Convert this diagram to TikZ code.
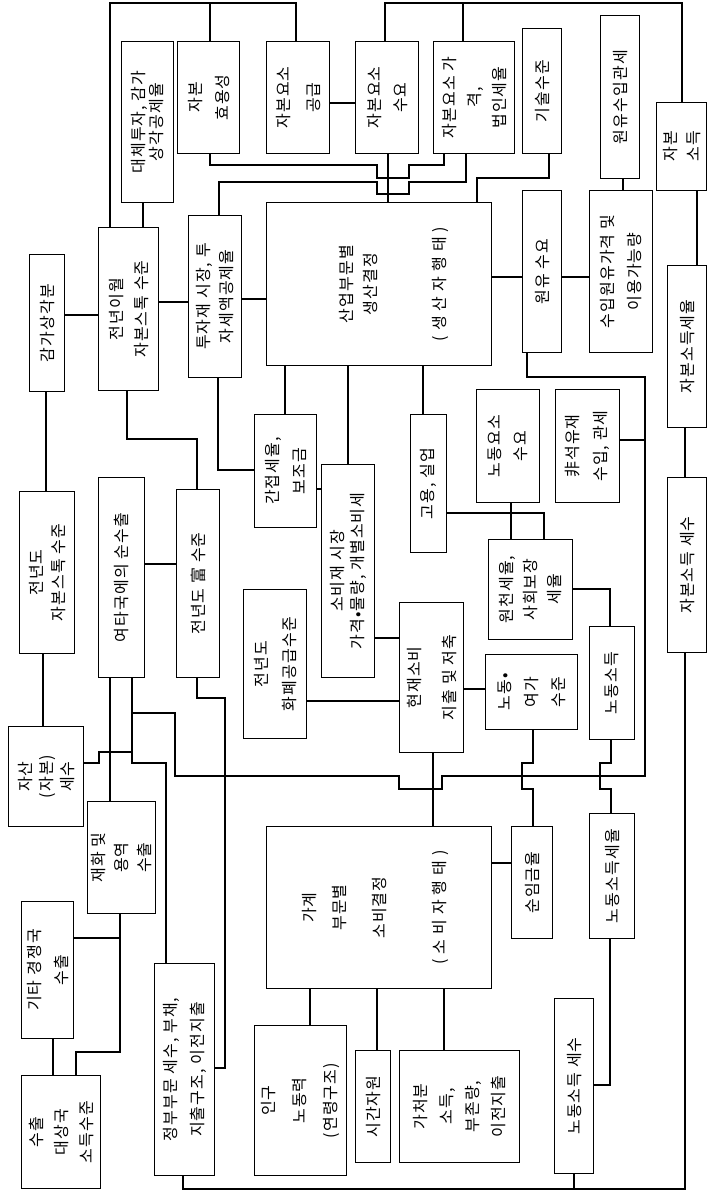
\documentclass[tikz,border=0pt]{standalone}
\usepackage{fontspec}
\setmainfont{Noto Sans CJK KR}[LetterSpace=7]
\tikzset{
  bx/.style={draw, line width=1.1pt, inner sep=0pt},
  wire/.style={line width=1.4pt, line join=miter},
  tx/.style={inner sep=0pt, align=center},
}
\newcommand\mybx[7][26]{%
  \node[bx, anchor=north west, minimum width={#5pt-#3pt}, minimum height={#6pt-#4pt}] (#2) at (#3,#4) {};
  \node[tx, rotate=90, font=\fontsize{16}{#1}\selectfont] at (#2.center) {#7};
}
\newcommand\sk{\kern5pt}
\begin{document}
\begin{tikzpicture}[x=1pt,y=-1pt]
\useasboundingbox (0,0) rectangle (709,1196);
% top row
\mybx[18]{dt}{121}{41}{173}{202}{대체투자, 감가\\상각공제율}
\mybx[27]{hy}{177}{41}{239}{153}{자본\\효용성}
\mybx[30]{sp}{266}{41}{329}{153}{자본요소\\공급}
\mybx[26]{dm}{355}{41}{418}{153}{자본요소\\수요}
\mybx[25]{pr}{433}{41}{514}{153}{자본요소 가\\격,\\법인세율}
\mybx{gs}{522}{28}{561}{153}{기술수준}
\mybx{ot}{600}{15}{639}{178}{원유수입관세}
\mybx[23]{ki}{656}{102}{706}{190}{자본\\소득}
\mybx[27]{op}{589}{190}{652}{352}{수입원유가격 및\\이용가능량}
\mybx{od}{522}{190}{561}{352}{원유 수요}
\node[bx, anchor=north west, minimum width=225pt, minimum height=163pt] (main) at (266,202) {};
\node[tx, rotate=90, font=\fontsize{16}{16}\selectfont] at (main.center -| 347,0) {산업부문별};
\node[tx, rotate=90, font=\fontsize{16}{16}\selectfont] at (main.center -| 370,0) {생산결정};
\node[tx, rotate=90, font=\fontsize{16}{16}\selectfont] at (main.center -| 440,0) {(\sk 생\sk 산\sk 자\sk 행\sk 태\sk )};
\mybx{ktr}{667}{265}{706}{427}{자본소득세율}
\mybx{ktx}{667}{477}{706}{652}{자본소득 세수}
% left / middle
\mybx{gg}{29}{254}{64}{391}{감가상각분}
\mybx[25]{jw}{98}{227}{158}{390}{전년이월\\자본스톡 수준}
\mybx[23]{tj}{188}{215}{241}{377}{투자재 시장, 투\\자세액공제율}
\mybx[27]{ij}{254}{414}{316}{527}{간접세율,\\보조금}
\mybx[20]{sb}{321}{464}{374}{677}{소비재 시장\\가격•물량, 개별소비세}
\mybx{gu}{410}{414}{446}{552}{고용, 실업}
\mybx[26]{nd}{476}{389}{539}{502}{노동요소\\수요}
\mybx[28]{ns}{555}{389}{619}{502}{非석유재\\수입, 관세}
\mybx[24]{wc}{488}{539}{572}{639}{원천세율,\\사회보장\\세율}
\mybx[22]{js}{19}{491}{74}{653}{전년도\\자본스톡 수준}
\mybx{yt}{98}{477}{144}{677}{여타국에의 순수출}
\mybx{wb}{176}{489}{219}{677}{전년도 富 수준}
\mybx[28]{hp}{243}{589}{306}{738}{전년도\\화폐공급수준}
\mybx[35]{hc}{399}{602}{463}{752}{현재소비\\지출 및 저축}
\mybx[27]{ny}{485}{654}{577}{729}{노동•\\여가\\수준}
\mybx{ni}{589}{626}{634}{739}{노동소득}
\mybx[21]{as}{8}{726}{83}{826}{자산\\(자본)\\세수}
\mybx[23]{ex}{87}{801}{155}{913}{재화 및\\용역\\수출}
\mybx[27]{gi}{21}{901}{73}{1038}{기타 경쟁국\\수출}
\mybx[25]{sd}{21}{1075}{100}{1188}{수출\\대상국\\소득수준}
\mybx[27]{gv}{154}{963}{214}{1175}{정부부문 세수, 부채,\\지출구조, 이전지출}
\node[bx, anchor=north west, minimum width=225pt, minimum height=162pt] (hh) at (266,826) {};
\node[tx, rotate=90, font=\fontsize{16}{16}\selectfont] at (hh.center -| 310,0) {가계};
\node[tx, rotate=90, font=\fontsize{16}{16}\selectfont] at (hh.center -| 340,0) {부문별};
\node[tx, rotate=90, font=\fontsize{16}{16}\selectfont] at (hh.center -| 380,0) {소비결정};
\node[tx, rotate=90, font=\fontsize{16}{16}\selectfont] at (hh.center -| 440,0) {(\sk 소\sk 비\sk 자\sk 행\sk 태\sk )};
\mybx{sw}{511}{826}{552}{938}{순임금율}
\mybx{nr}{589}{813}{634}{938}{노동소득세율}
\mybx[31]{pop}{254}{1025}{346}{1175}{인구\\노동력\\(연령구조)}
\mybx{tr}{355}{1050}{390}{1162}{시간자원}
\mybx[26]{di}{399}{1050}{519}{1162}{가처분\\소득,\\부존량,\\이전지출}
\mybx{nx}{554}{998}{593}{1173}{노동소득 세수}
% wires
\draw[wire] (jw.north -| 110,0) -- (110,3) -- (296,3) -- (sp.north -| 296,0);
\draw[wire] (hy.north -| 210,0) -- (210,3);
\draw[wire] (dm.north -| 385,0) -- (385,3) -- (682,3) -- (ki.north -| 682,0);
\draw[wire] (pr.north -| 463,0) -- (463,3);
\draw[wire] (dt.south -| 143,0) -- (jw.north -| 143,0);
\draw[wire] (gg.east |- 0,315) -- (jw.west |- 0,315);
\draw[wire] (jw.east |- 0,302) -- (tj.west |- 0,302);
\draw[wire] (tj.east |- 0,299) -- (main.west |- 0,299);
\draw[wire] (sp.east |- 0,103) -- (dm.west |- 0,103);
\draw[wire] (dm.south -| 388,0) -- (main.north -| 388,0);
\draw[wire] (hy.south -| 210,0) -- (210,165) -- (377,165) -- (377,178) -- (409,178) -- (409,165) -- (444,165) -- (pr.south -| 444,0);
\draw[wire] (tj.north -| 219,0) -- (219,182) -- (377,182) -- (377,194) -- (409,194) -- (409,182) -- (466,182) -- (pr.south -| 466,0);
\draw[wire] (gs.south -| 549,0) -- (549,178) -- (477,178) -- (main.north -| 477,0);
\draw[wire] (main.east |- 0,277) -- (od.west |- 0,277);
\draw[wire] (od.east |- 0,277) -- (op.west |- 0,277);
\draw[wire] (ot.south -| 623,0) -- (op.north -| 623,0);
\draw[wire] (ki.south -| 697,0) -- (ktr.north -| 697,0);
\draw[wire] (ktr.south -| 685,0) -- (ktx.north -| 685,0);
\draw[wire] (ktx.south -| 685,0) -- (685,1189) -- (183,1189) -- (gv.south -| 183,0);
\draw[wire] (nx.south -| 574,0) -- (574,1189);
\draw[wire] (gg.south -| 46,0) -- (js.north -| 46,0);
\draw[wire] (js.south -| 43,0) -- (as.north -| 43,0);
\draw[wire] (jw.south -| 127,0) -- (127,439) -- (197,439) -- (wb.north -| 197,0);
\draw[wire] (tj.south -| 218,0) -- (218,470) -- (ij.west |- 0,470);
\draw[wire] (main.south -| 285,0) -- (ij.north -| 285,0);
\draw[wire] (main.south -| 348,0) -- (sb.north -| 348,0);
\draw[wire] (main.south -| 423,0) -- (gu.north -| 423,0);
\draw[wire] (ij.east |- 0,489) -- (sb.west |- 0,489);
\draw[wire] (yt.east |- 0,564) -- (wb.west |- 0,564);
\draw[wire] (sb.east |- 0,638) -- (hc.west |- 0,638);
\draw[wire] (hp.east |- 0,701) -- (hc.west |- 0,701);
\draw[wire] (hc.east |- 0,689) -- (ny.west |- 0,689);
\draw[wire] (gu.east |- 0,513) -- (544,513) -- (wc.north -| 544,0);
\draw[wire] (nd.south -| 511,0) -- (wc.north -| 511,0);
\draw[wire] (wc.east |- 0,589) -- (610,589) -- (ni.north -| 610,0);
\draw[wire] (od.south -| 527,0) -- (527,377) -- (645,377) -- (645,776) -- (442,776) -- (442,789) -- (399,789) -- (399,776) -- (175,776) -- (175,713) -- (132,713);
\draw[wire] (ns.east |- 0,440) -- (645,440);
\draw[wire] (yt.south -| 132,0) -- (132,763) -- (166,763) -- (gv.north -| 166,0);
\draw[wire] (as.east |- 0,763) -- (99,763) -- (99,752) -- (132,752);
\draw[wire] (yt.south -| 110,0) -- (ex.north -| 110,0);
\draw[wire] (wb.south -| 197,0) -- (197,698) -- (225,698) -- (225,1068) -- (gv.east |- 0,1068);
\draw[wire] (ex.south -| 120,0) -- (120,1052) -- (76,1052) -- (sd.north -| 76,0);
\draw[wire] (gi.east |- 0,938) -- (120,938);
\draw[wire] (gi.south -| 53,0) -- (sd.north -| 53,0);
\draw[wire] (hc.south -| 433,0) -- (hh.north -| 433,0);
\draw[wire] (ny.south -| 533,0) -- (533,763) -- (522,763) -- (522,789) -- (533,789) -- (sw.north -| 533,0);
\draw[wire] (ni.south -| 611,0) -- (611,763) -- (600,763) -- (600,789) -- (611,789) -- (nr.north -| 611,0);
\draw[wire] (hh.east |- 0,863) -- (sw.west |- 0,863);
\draw[wire] (nr.south -| 610,0) -- (610,1085) -- (nx.east |- 0,1085);
\draw[wire] (hh.south -| 310,0) -- (pop.north -| 310,0);
\draw[wire] (hh.south -| 377,0) -- (tr.north -| 377,0);
\draw[wire] (hh.south -| 444,0) -- (di.north -| 444,0);
\end{tikzpicture}
\end{document}
